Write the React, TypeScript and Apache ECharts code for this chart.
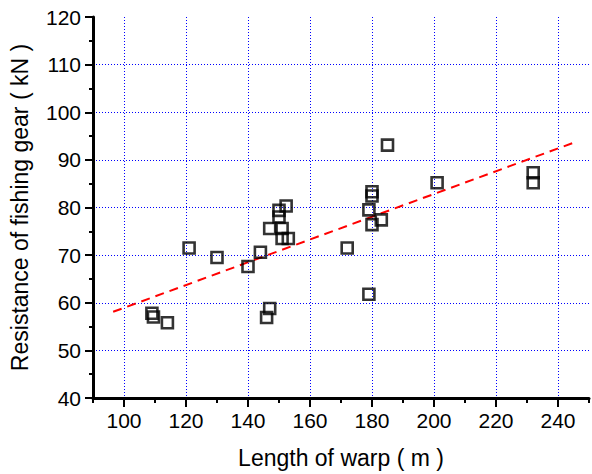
import React, { useEffect, useRef } from 'react';
import * as echarts from 'echarts';

const warpLength = [109, 109.5, 114, 121, 130, 140, 144, 146, 147, 147, 150, 150, 151, 151, 152.3, 153, 172, 179, 179, 180, 180, 180, 183, 185, 201, 232, 232];
const resistance = [57.8, 57.0, 55.8, 71.5, 69.5, 67.6, 70.6, 56.9, 58.8, 75.6, 79.4, 78.0, 75.6, 73.5, 80.3, 73.5, 71.5, 61.8, 79.5, 83.3, 82.4, 76.4, 77.4, 93.1, 85.2, 87.3, 85.2];
const fitX = [96.5, 244.6];
const fitY = [58.1, 93.5];
const xLabelValues = [100, 120, 140, 160, 180, 200, 220, 240];

export default function App() {
  const ref = useRef<HTMLDivElement>(null);
  useEffect(() => {
    const chart = echarts.init(ref.current as HTMLDivElement, null, { renderer: 'svg' });
    const font = 'Liberation Sans, Arial, sans-serif';
    const gridLine = { color: '#0000ff', width: 1, type: [1, 2] };
    chart.setOption({
      animation: false,
      backgroundColor: '#ffffff',
      textStyle: { fontFamily: font, color: '#000' },
      grid: { left: 90, top: 17, right: 1, bottom: 76, containLabel: false },
      xAxis: [
        {
          type: 'value',
          min: 90,
          max: 250,
          interval: 20,
          position: 'bottom',
          axisLine: { show: true, onZero: false, lineStyle: { color: '#000', width: 3 } },
          axisTick: { show: true, length: 5, lineStyle: { color: '#000', width: 2 } },
          minorTick: { show: true, splitNumber: 2, length: 9, lineStyle: { color: '#000', width: 2 } },
          axisLabel: { show: false },
          splitLine: { show: false },
          minorSplitLine: { show: true, lineStyle: gridLine },
          name: 'Length of warp ( m )',
          nameLocation: 'middle',
          nameGap: 48,
          nameTextStyle: { fontSize: 23, color: '#000', fontFamily: font },
        },
        {
          type: 'value',
          min: 90,
          max: 250,
          interval: 10,
          position: 'bottom',
          axisLine: { show: false },
          axisTick: { show: false },
          splitLine: { show: false },
          axisLabel: {
            show: true,
            margin: 12,
            fontSize: 21,
            color: '#000',
            fontFamily: font,
            formatter: (v: number) => (xLabelValues.indexOf(v) >= 0 ? String(v) : ''),
          },
        },
      ],
      yAxis: {
        type: 'value',
        min: 40,
        max: 120,
        interval: 10,
        axisLine: { show: true, onZero: false, lineStyle: { color: '#000', width: 3 } },
        axisTick: { show: true, length: 8, lineStyle: { color: '#000', width: 2 } },
        minorTick: { show: true, splitNumber: 2, length: 4, lineStyle: { color: '#000', width: 2 } },
        axisLabel: { margin: 12, fontSize: 21, color: '#000', fontFamily: font },
        splitLine: { show: true, showMinLine: false, showMaxLine: false, lineStyle: gridLine },
        name: 'Resistance of fishing gear ( kN )',
        nameLocation: 'middle',
        nameGap: 62,
        nameTextStyle: { fontSize: 23, color: '#000', fontFamily: font },
      },
      series: [
        {
          type: 'line',
          xAxisIndex: 0,
          data: fitX.map((x, i) => [x, fitY[i]]),
          showSymbol: false,
          symbol: 'none',
          lineStyle: { color: '#ff0000', width: 2, type: [9, 6] },
          z: 2,
        },
        {
          type: 'scatter',
          xAxisIndex: 0,
          data: warpLength.map((x, i) => [x, resistance[i]]),
          symbol: 'rect',
          symbolSize: 11,
          itemStyle: { color: 'rgba(0,0,0,0)', borderColor: '#000', borderWidth: 2.6 },
          z: 3,
        },
      ],
    });
    return () => chart.dispose();
  }, []);
  return <div ref={ref} style={{ position: 'absolute', left: 0, top: 0, width: 592, height: 474 }} />;
}
